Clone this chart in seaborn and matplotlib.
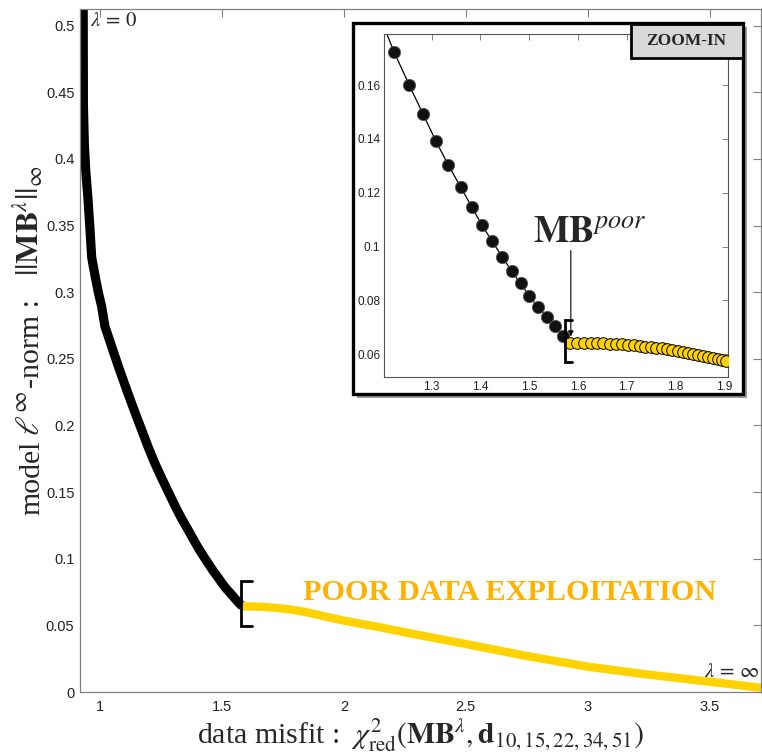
import numpy as np
import pandas as pd
import matplotlib
matplotlib.use("Agg")
import matplotlib.pyplot as plt
from matplotlib.patches import Rectangle
import seaborn as sns

# ---------------- data ----------------
early_x = [0.931, 0.932, 0.936, 0.942, 0.950, 0.958, 0.966, 0.980, 0.993, 1.007,
           1.020, 1.050, 1.080, 1.110, 1.140, 1.170, 1.197]
early_y = [0.520, 0.440, 0.410, 0.390, 0.372, 0.350, 0.326, 0.312, 0.300, 0.289,
           0.2745, 0.2580, 0.2418, 0.2264, 0.2114, 0.1970, 0.1840]

good_x = [1.2234, 1.2541, 1.2828, 1.3088, 1.3340, 1.3594, 1.3820, 1.4031, 1.4242,
          1.4447, 1.4639, 1.4824, 1.5000, 1.5172, 1.5357, 1.5520, 1.5697]
good_y = [0.1722, 0.1600, 0.1491, 0.1392, 0.1303, 0.1222, 0.1148, 0.1080, 0.1019,
          0.0962, 0.0909, 0.0863, 0.0817, 0.0776, 0.0739, 0.0704, 0.0668]

poor_x = [1.5834, 1.5984, 1.6121, 1.6264, 1.6394, 1.6517, 1.6654, 1.6777, 1.6900,
          1.7029, 1.7146, 1.7268, 1.7377, 1.7494, 1.7610, 1.7719, 1.7828, 1.7938,
          1.8047, 1.8156, 1.8258, 1.8361, 1.8463, 1.8566, 1.8668, 1.8771, 1.8873,
          1.8955, 1.9030]
poor_y = [0.0643, 0.0643, 0.0642, 0.0642, 0.0641, 0.0640, 0.0639, 0.0637, 0.0636,
          0.0634, 0.0632, 0.0630, 0.0628, 0.0626, 0.0623, 0.0621, 0.0618, 0.0615,
          0.0612, 0.0609, 0.0605, 0.0602, 0.0598, 0.0594, 0.0590, 0.0586, 0.0582,
          0.0579, 0.0575]

tail_x = [2.00, 2.15, 2.30, 2.50, 2.75, 3.00, 3.25, 3.50, 3.71]
tail_y = [0.0535, 0.0485, 0.0430, 0.0360, 0.0270, 0.0190, 0.0130, 0.0077, 0.0032]

main_xticks = [1, 1.5, 2, 2.5, 3, 3.5]
main_xticklabels = ["1", "1.5", "2", "2.5", "3", "3.5"]
main_yticks = [0, 0.05, 0.1, 0.15, 0.2, 0.25, 0.3, 0.35, 0.4, 0.45, 0.5]
main_yticklabels = ["0", "0.05", "0.1", "0.15", "0.2", "0.25", "0.3", "0.35", "0.4", "0.45", "0.5"]
inset_xticks = [1.3, 1.4, 1.5, 1.6, 1.7, 1.8, 1.9]
inset_xticklabels = ["1.3", "1.4", "1.5", "1.6", "1.7", "1.8", "1.9"]
inset_yticks = [0.06, 0.08, 0.10, 0.12, 0.14, 0.16]
inset_yticklabels = ["0.06", "0.08", "0.1", "0.12", "0.14", "0.16"]

ylabel_parts = ["model", r"$\ell^{\infty}$", "-norm :", r"$||\mathbf{MB}^{\lambda}||_{\infty}$"]

# ---------------- style ----------------
sns.set_theme(style="white")
plt.rcParams["font.family"] = ["Liberation Sans", "DejaVu Sans"]
plt.rcParams["mathtext.fontset"] = "stix"

BLACK = "#000000"
YELLOW = "#FFD200"
ORANGE = "#FFB300"
SPINE = "#808080"
SERIF = ["Liberation Serif", "DejaVu Serif"]

good_df = pd.DataFrame({"x": early_x + good_x + poor_x[:1], "y": early_y + good_y + poor_y[:1]})
poor_df = pd.DataFrame({"x": poor_x + tail_x, "y": poor_y + tail_y})
all_df = pd.DataFrame({"x": early_x + good_x + poor_x, "y": early_y + good_y + poor_y})
gm_df = pd.DataFrame({"x": good_x, "y": good_y})
pm_df = pd.DataFrame({"x": poor_x, "y": poor_y})

fig = plt.figure(figsize=(7.62, 7.55), dpi=100)
ax = fig.add_axes([80 / 762, 1 - 692 / 755, 681 / 762, 683 / 755])

# main curves
sns.lineplot(data=good_df, x="x", y="y", sort=False, estimator=None, ax=ax,
             color=BLACK, lw=6.6, solid_capstyle="butt", solid_joinstyle="round")
sns.lineplot(data=poor_df, x="x", y="y", sort=False, estimator=None, ax=ax,
             color=YELLOW, lw=6.0, solid_capstyle="butt", solid_joinstyle="round")

ax.set_xlim(0.918, 3.71)
ax.set_ylim(0, 0.5125)
ax.set_xticks(main_xticks)
ax.set_xticklabels(main_xticklabels)
ax.set_yticks(main_yticks)
ax.set_yticklabels(main_yticklabels)
ax.tick_params(direction="in", top=True, right=True, length=6, width=0.8,
               color=SPINE, labelsize=10.5, labelcolor="#222222")
ax.tick_params(axis="x", pad=6)
ax.tick_params(axis="y", pad=4)
for s in ax.spines.values():
    s.set_visible(True)
    s.set_color(SPINE)
    s.set_linewidth(0.9)

ax.set_xlabel(r"data misfit :  $\chi^2_{\rm red}(\mathbf{MB}^{\lambda},\mathbf{d}_{10,15,22,34,51})$",
              fontsize=21.5, family=SERIF, labelpad=2)
ax.set_ylabel("")

# y label composed of pieces sharing one baseline (larger math parts)
renderer = fig.canvas.get_renderer()
base_x = 39 / 762
part_size = [21.5, 24, 21.5, 23]
part_gap = [0, 5, 3, 0]
py = 515.0
for i, (txt, fs) in enumerate(zip(ylabel_parts, part_size)):
    kw = dict(family=SERIF) if not txt.startswith("$") else {}
    if i == 3:
        py = min(py - 12, 276.0)
    else:
        py -= part_gap[i]
    t = fig.text(base_x, 1 - py / 755, txt, rotation=90, rotation_mode="anchor",
                 ha="left", va="baseline", fontsize=fs, **kw)
    bb = t.get_window_extent(renderer)
    py -= bb.height

# bracket at the split point (main)
bx = poor_x[0] - 0.006
ax.plot([bx + 0.045, bx, bx, bx + 0.045], [0.0832, 0.0832, 0.0495, 0.0495],
        color=BLACK, lw=2.0, solid_joinstyle="miter")

ax.text(0.957, 0.5035, r"$\lambda\,=\,0$", fontsize=15, ha="left", va="center")
ax.text(3.475, 0.0155, r"$\lambda\,=\,\infty$", fontsize=15, ha="left", va="center")
ax.text(1.832, 0.0745, "POOR DATA EXPLOITATION", color=ORANGE, fontsize=21.8,
        fontweight="bold", family=SERIF, ha="left", va="center")

# ---------------- inset frame ----------------
fx0, fx1 = 353 / 762, 743 / 762
fy0, fy1 = 1 - 394 / 755, 1 - 23 / 755
shadow = Rectangle((fx0 + 4 / 762, fy0 - 4 / 755), fx1 - fx0, fy1 - fy0,
                   transform=fig.transFigure, facecolor="#9a9a9a", edgecolor="none",
                   zorder=1)
frame = Rectangle((fx0, fy0), fx1 - fx0, fy1 - fy0, transform=fig.transFigure,
                  facecolor="white", edgecolor=BLACK, lw=2.4, zorder=1.1)
fig.patches.extend([shadow, frame])

axi = fig.add_axes([384.3 / 762, 1 - 376.7 / 755, 343.4 / 762, 342.7 / 755])
axi.set_zorder(2)
sns.lineplot(data=all_df, x="x", y="y", sort=False, estimator=None, ax=axi,
             color=BLACK, lw=0.9)
sns.scatterplot(data=gm_df, x="x", y="y", ax=axi, color="#111111", s=78,
                edgecolor="#555555", linewidth=0.6, zorder=3)
sns.scatterplot(data=pm_df, x="x", y="y", ax=axi, color=YELLOW, s=70,
                edgecolor=BLACK, linewidth=0.7, zorder=3)
axi.set_xlim(1.203, 1.907)
axi.set_ylim(0.0516, 0.179)
axi.set_xticks(inset_xticks)
axi.set_xticklabels(inset_xticklabels)
axi.set_yticks(inset_yticks)
axi.set_yticklabels(inset_yticklabels)
axi.set_xlabel("")
axi.set_ylabel("")
axi.tick_params(direction="in", top=True, right=True, length=4, width=0.7,
                color=SPINE, labelsize=8.5, labelcolor="#222222", pad=3)
for s in axi.spines.values():
    s.set_visible(True)
    s.set_color("#555555")
    s.set_linewidth(0.8)

# inset bracket + arrow + label
ibx = poor_x[0] - 0.010
axi.plot([ibx + 0.014, ibx, ibx, ibx + 0.014], [0.0726, 0.0726, 0.0570, 0.0570],
         color=BLACK, lw=2.0, solid_joinstyle="miter", zorder=4)
axi.annotate("", xy=(poor_x[0] + 0.002, 0.0655), xytext=(poor_x[0] + 0.002, 0.0995),
             arrowprops=dict(arrowstyle="-|>", color=BLACK, lw=0.8, mutation_scale=8),
             zorder=4)
axi.text(1.508, 0.1017, r"$\mathbf{MB}^{\mathit{poor}}$", fontsize=27,
         ha="left", va="baseline")

# ZOOM-IN tag
zb = Rectangle((631 / 762, 1 - 58 / 755), 112 / 762, 34 / 755, transform=fig.transFigure,
               facecolor="#d9d9d9", edgecolor=BLACK, lw=2.0, zorder=3)
fig.patches.append(zb)
fig.text((631 + 55) / 762, 1 - 41 / 755, "ZOOM-IN", family=SERIF, fontweight="bold",
         fontsize=12.5, ha="center", va="center", zorder=4)

fig.savefig("out.png", dpi=100)
